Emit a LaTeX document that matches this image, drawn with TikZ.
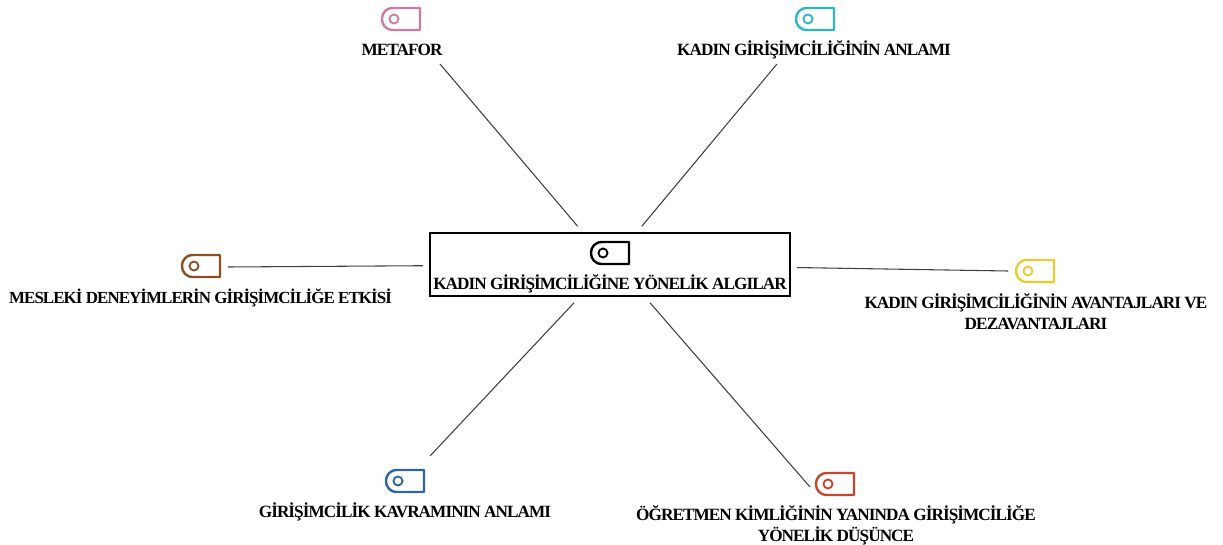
\documentclass[tikz,border=0pt]{standalone}
\usepackage{fontspec}
\setmainfont{Liberation Serif}
\usepackage{xcolor}
\usetikzlibrary{calc}

\definecolor{tagPink}{HTML}{CC7BA6}
\definecolor{tagTeal}{HTML}{2FB6C6}
\definecolor{tagBrown}{HTML}{8C4F25}
\definecolor{tagYellow}{HTML}{EBCB33}
\definecolor{tagBlue}{HTML}{2C659F}
\definecolor{tagRed}{HTML}{C8452F}

\tikzset{
	tagicon/.pic={
		\draw [line width=1.8pt, line join=round] (19,-11) -- (19,11) -- (-8,11) .. controls (-22.7,11) and (-22.7,-11) .. (-8,-11) -- cycle;
		\draw [line width=1.4pt] (-7,0) circle (4.5);
	},
	caption/.style={font=\bfseries\fontsize{12.9}{15.5}\selectfont\addfontfeatures{LetterSpace=-5.5}, align=center, inner sep=0pt},
	spoke/.style={draw=black!75, line width=0.8pt},
}

\begin{document}
\begin{tikzpicture}[x=0.75pt, y=-0.75pt]
			\useasboundingbox (0,0) rectangle (1223,545);

			\begin{scope}
				\node [draw, line width=1pt, minimum width=270pt, minimum height=47pt, outer sep=5.2pt] (main) at (610,264.5) {};
				\node [caption] (mainText) at (610,284) {KADIN GİRİŞİMCİLİĞİNE YÖNELİK ALGILAR};
				\node [caption] (metafor) at (402,50) {METAFOR};
				\node [caption] (anlam) at (814,50) {KADIN GİRİŞİMCİLİĞİNİN ANLAMI};
				\node [caption, font=\bfseries\fontsize{12.7}{15.5}\selectfont\addfontfeatures{LetterSpace=-5.5}] (mesleki) at (200.5,298) {MESLEKİ DENEYİMLERİN GİRİŞİMCİLİĞE ETKİSİ};
				\node [caption] (avantaj) at (1036,312) {KADIN GİRİŞİMCİLİĞİNİN AVANTAJLARI VE\\DEZAVANTAJLARI};
				\node [caption] (kavram) at (405,512) {GİRİŞİMCİLİK KAVRAMININ ANLAMI};
				\node [caption] (kimlik) at (836,525) {ÖĞRETMEN KİMLİĞİNİN YANINDA GİRİŞİMCİLİĞE\\YÖNELİK DÜŞÜNCE};
			\end{scope}

			\begin{scope}
				\pic at (610,253) {tagicon};
				\pic [tagPink] at (401,19) {tagicon};
				\pic [tagTeal] at (815,19) {tagicon};
				\pic [tagBrown] at (201,266) {tagicon};
				\pic [tagYellow] at (1035,271) {tagicon};
				\pic [tagBlue] at (405,481) {tagicon};
				\pic [tagRed] at (835,484) {tagicon};
			\end{scope}

			\begin{scope}
				\coordinate (metaforEnd) at (440,64);
				\coordinate (anlamEnd) at (777,64);
				\coordinate (meslekiEnd) at (228,267);
				\coordinate (avantajEnd) at (1008,271);
				\coordinate (kavramEnd) at (430,456);
				\coordinate (kimlikEnd) at (810,487);

				\foreach \e in {metaforEnd,anlamEnd,meslekiEnd,avantajEnd,kavramEnd}
				{
					\draw [spoke] (main) -- (\e);
				}
				\draw [spoke] (main.south -| 650,0) -- (kimlikEnd);
			\end{scope}
		\end{tikzpicture}
\end{document}
